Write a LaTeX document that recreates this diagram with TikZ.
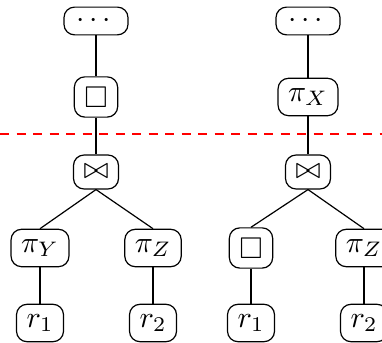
\documentclass[tikz,border=0pt]{standalone}
\usepackage{amsmath}
\usepackage{amssymb}

\tikzset{
  op/.style={draw,rounded corners=3.5pt},
  more/.style={draw,rounded corners=3.5pt,inner xsep=4pt,inner ysep=2.4pt}
}

\begin{document}
\begin{tikzpicture}[x=0.3333pt,y=0.3333pt]
      \useasboundingbox (0,0) rectangle (382,343);

      %% left plan
      \node[more] (dotsA) at (96,322) {$\cdots$};
      \node[op] (boxA) at (96,246) {$\Box$};
      \node[op] (joinA) at (96,171) {$\bowtie$};
      \node[op] (piYA) at (40,95) {$\pi_Y$};
      \node[op] (piZA) at (153,95) {$\pi_Z$};
      \node[op] (rOneA) at (40,20) {$r_1$};
      \node[op] (rTwoA) at (153,20) {$r_2$};

      %% right plan
      \node[more] (dotsB) at (308,322) {$\cdots$};
      \node[op] (piXB) at (308,246) {$\pi_X$};
      \node[op] (joinB) at (308,171) {$\bowtie$};
      \node[op] (boxB) at (251,95) {$\Box$};
      \node[op] (piZB) at (364,95) {$\pi_Z$};
      \node[op] (rOneB) at (251,20) {$r_1$};
      \node[op] (rTwoB) at (364,20) {$r_2$};

      %% edges
      \draw (dotsA) -- (boxA);
      \draw (boxA) -- (joinA);
      \draw (joinA.south) -- (piYA.north);
      \draw (joinA.south) -- (piZA.north);
      \draw (piYA) -- (rOneA);
      \draw (piZA) -- (rTwoA);

      \draw (dotsB) -- (piXB);
      \draw (piXB) -- (joinB);
      \draw (joinB.south) -- (boxB.north);
      \draw (joinB.south) -- (piZB.north);
      \draw (boxB) -- (rOneB);
      \draw (piZB) -- (rTwoB);

      % cut
      \draw[thick,red,dash pattern=on 3pt off 2.5pt] (0,209) -- (382,209);
\end{tikzpicture}
\end{document}
